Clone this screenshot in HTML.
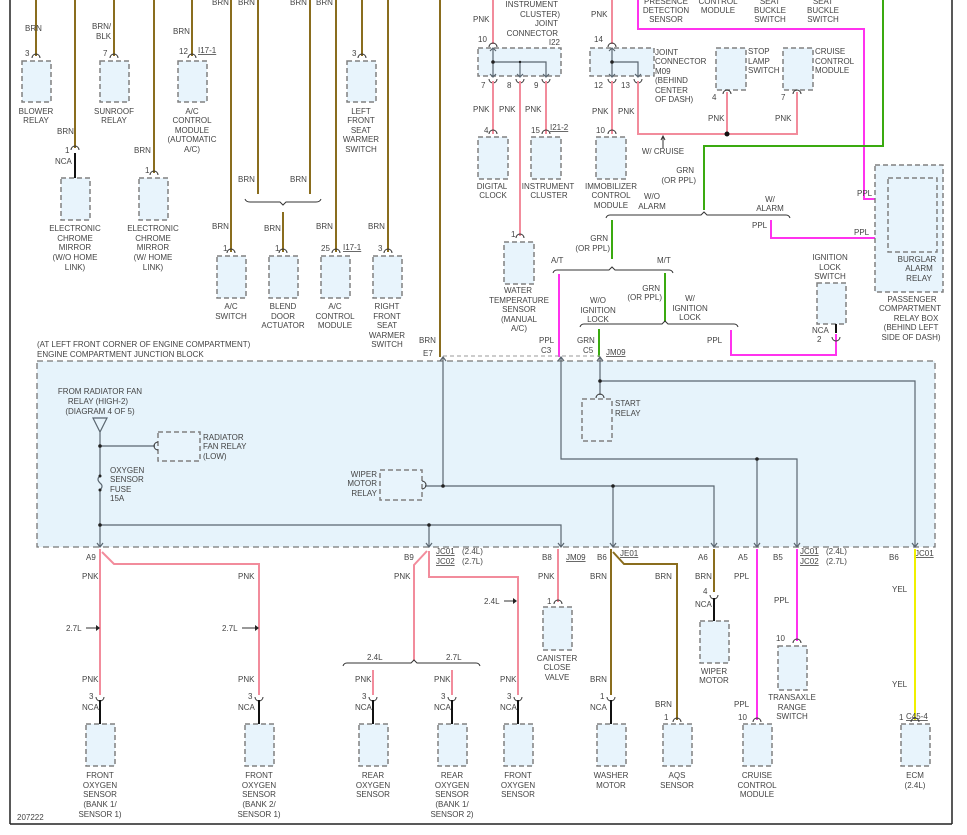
<!DOCTYPE html>
<html><head><meta charset="utf-8"><style>
html,body{margin:0;padding:0;background:#fff;}
svg{display:block;font-family:"Liberation Sans",sans-serif;}
text{font-size:8px;fill:#444;}
.m{text-anchor:middle}.e{text-anchor:end}
.b{fill:#e8f4fc;stroke:#808080;stroke-width:1.5;stroke-dasharray:5,3}
.br{stroke:#8a6d1e;stroke-width:2;fill:none}
.pk{stroke:#f28c9c;stroke-width:2;fill:none}
.pp{stroke:#ff33ee;stroke-width:2;fill:none}
.gn{stroke:#3aaa10;stroke-width:2;fill:none}
.yl{stroke:#f0f000;stroke-width:2;fill:none}
.k{stroke:#111;stroke-width:2;fill:none}
.g{stroke:#5a6670;stroke-width:1.2;fill:none}
.c{stroke:#333;stroke-width:1;fill:none}
.u{text-decoration:underline}
</style></head><body>
<svg width="967" height="835" viewBox="0 0 967 835">
<!-- frame -->
<line x1="10" y1="0" x2="10" y2="824" stroke="#222" stroke-width="1.5"/>
<line x1="952" y1="0" x2="952" y2="824" stroke="#222" stroke-width="1.5"/>
<line x1="10" y1="824" x2="952" y2="824" stroke="#222" stroke-width="1.5"/>

<!-- ===== top-left brown section ===== -->
<path class="br" d="M36 0V56"/><text x="25" y="31">BRN</text><text x="25" y="56">3</text>
<path class="c" d="M32 58A4 4 0 0 1 40 58"/><rect class="b" x="22" y="61" width="29" height="41"/>
<text class="m" x="36" y="114">BLOWER</text><text class="m" x="36" y="123">RELAY</text>

<path class="br" d="M75 0V148"/><text x="57" y="134">BRN</text><text x="65" y="153">1</text>
<path class="c" d="M71 150A4 4 0 0 1 79 150"/><text x="55" y="164">NCA</text>
<path class="k" d="M75 153V178"/><rect class="b" x="61" y="178" width="29" height="42"/>
<text class="m" x="75" y="231">ELECTRONIC</text><text class="m" x="75" y="241">CHROME</text><text class="m" x="75" y="250">MIRROR</text><text class="m" x="75" y="260">(W/O HOME</text><text class="m" x="75" y="270">LINK)</text>

<path class="br" d="M114 0V56"/><text x="92" y="29">BRN/</text><text x="96" y="39">BLK</text><text x="103" y="56">7</text>
<path class="c" d="M110 58A4 4 0 0 1 118 58"/><rect class="b" x="100" y="61" width="29" height="41"/>
<text class="m" x="114" y="114">SUNROOF</text><text class="m" x="114" y="123">RELAY</text>

<path class="br" d="M154 0V173"/><text x="134" y="153">BRN</text><text x="145" y="173">1</text>
<path class="c" d="M150 175A4 4 0 0 1 158 175"/><rect class="b" x="139" y="178" width="29" height="42"/>
<text class="m" x="153" y="231">ELECTRONIC</text><text class="m" x="153" y="241">CHROME</text><text class="m" x="153" y="250">MIRROR</text><text class="m" x="153" y="260">(W/ HOME</text><text class="m" x="153" y="270">LINK)</text>

<path class="br" d="M192 0V56"/><text x="173" y="34">BRN</text><text x="179" y="54">12</text><text class="u" x="198" y="53">I17-1</text>
<path class="c" d="M188 58A4 4 0 0 1 196 58"/><rect class="b" x="178" y="61" width="29" height="41"/>
<text class="m" x="192" y="114">A/C</text><text class="m" x="192" y="123">CONTROL</text><text class="m" x="192" y="133">MODULE</text><text class="m" x="192" y="142">(AUTOMATIC</text><text class="m" x="192" y="152">A/C)</text>

<text x="212" y="5">BRN</text><text x="238" y="5">BRN</text><text x="290" y="5">BRN</text><text x="316" y="5">BRN</text>
<path class="br" d="M231 0V252"/><text x="212" y="229">BRN</text><text x="223" y="251">1</text>
<path class="c" d="M227 253A4 4 0 0 1 235 253"/><rect class="b" x="217" y="256" width="29" height="42"/>
<text class="m" x="231" y="309">A/C</text><text class="m" x="231" y="319">SWITCH</text>

<path class="br" d="M258 0V194M310 0V194"/><text x="238" y="182">BRN</text><text x="290" y="182">BRN</text>
<path class="c" d="M245 199Q246 202 250 202H280L283 205L286 202H316Q320 202 321 199"/>
<path class="br" d="M283 212V252"/><text x="264" y="231">BRN</text><text x="275" y="251">1</text>
<path class="c" d="M279 253A4 4 0 0 1 287 253"/><rect class="b" x="269" y="256" width="29" height="42"/>
<text class="m" x="283" y="309">BLEND</text><text class="m" x="283" y="319">DOOR</text><text class="m" x="283" y="328">ACTUATOR</text>

<path class="br" d="M336 0V252"/><text x="316" y="229">BRN</text><text x="321" y="251">25</text><text class="u" x="343" y="250">I17-1</text>
<path class="c" d="M332 253A4 4 0 0 1 340 253"/><rect class="b" x="321" y="256" width="29" height="42"/>
<text class="m" x="335" y="309">A/C</text><text class="m" x="335" y="319">CONTROL</text><text class="m" x="335" y="328">MODULE</text>

<path class="br" d="M362 0V56"/><text x="352" y="56">3</text>
<path class="c" d="M358 58A4 4 0 0 1 366 58"/><rect class="b" x="347" y="61" width="29" height="41"/>
<text class="m" x="361" y="114">LEFT</text><text class="m" x="361" y="123">FRONT</text><text class="m" x="361" y="133">SEAT</text><text class="m" x="361" y="142">WARMER</text><text class="m" x="361" y="152">SWITCH</text>

<path class="br" d="M388 0V252"/><text x="368" y="229">BRN</text><text x="378" y="251">3</text>
<path class="c" d="M384 253A4 4 0 0 1 392 253"/><rect class="b" x="373" y="256" width="29" height="42"/>
<text class="m" x="387" y="309">RIGHT</text><text class="m" x="387" y="319">FRONT</text><text class="m" x="387" y="328">SEAT</text><text class="m" x="387" y="338">WARMER</text><text class="m" x="387" y="347">SWITCH</text>

<path class="br" d="M440 0V357"/><text x="419" y="343">BRN</text><text x="423" y="356">E7</text>

<!-- ===== top-right section ===== -->
<text class="e" x="558" y="7">INSTRUMENT</text><text class="e" x="560" y="17">CLUSTER)</text><text class="e" x="558" y="26">JOINT</text><text class="e" x="558" y="36">CONNECTOR</text><text class="e" x="560" y="45">I22</text>
<path class="pk" d="M493 0V44"/><text x="473" y="22">PNK</text><text x="478" y="42">10</text>
<rect class="b" x="478" y="48" width="83" height="28"/>
<path class="c" d="M489 47A4 4 0 0 1 497 47M489 79A4 4 0 0 0 497 79M516 79A4 4 0 0 0 524 79M542 79A4 4 0 0 0 550 79"/>
<path class="g" d="M493 48V77M493 62H546V77M520 62V77M490 51L493 48L496 51M490 74L493 77L496 74M517 74L520 77L523 74M543 74L546 77L549 74"/>
<circle cx="493" cy="62" r="1.8" fill="#222"/><circle cx="520" cy="62" r="1.2" fill="#222"/>
<text x="481" y="88">7</text><text x="507" y="88">8</text><text x="534" y="88">9</text>
<path class="pk" d="M493 81V134M520 81V236M546 81V134"/>
<text x="473" y="112">PNK</text><text x="499" y="112">PNK</text><text x="525" y="112">PNK</text>
<text x="484" y="133">4</text><text x="531" y="133">15</text><text class="u" x="550" y="130">I21-2</text>
<path class="c" d="M489 134A4 4 0 0 1 497 134M542 134A4 4 0 0 1 550 134M516 238A4 4 0 0 1 524 238"/>
<rect class="b" x="478" y="137" width="30" height="42"/><rect class="b" x="531" y="137" width="30" height="42"/>
<text class="m" x="492" y="189">DIGITAL</text><text class="m" x="493" y="198">CLOCK</text>
<text class="m" x="548" y="189">INSTRUMENT</text><text class="m" x="549" y="198">CLUSTER</text>
<text x="511" y="237">1</text><rect class="b" x="504" y="242" width="30" height="42"/>
<text class="m" x="518" y="293">WATER</text><text class="m" x="519" y="303">TEMPERATURE</text><text class="m" x="519" y="312">SENSOR</text><text class="m" x="519" y="322">(MANUAL</text><text class="m" x="519" y="331">A/C)</text>

<path class="pk" d="M612 0V44"/><text x="591" y="17">PNK</text><text x="594" y="42">14</text>
<rect class="b" x="590" y="48" width="64" height="28"/>
<path class="c" d="M608 47A4 4 0 0 1 616 47M608 79A4 4 0 0 0 616 79M634 79A4 4 0 0 0 642 79"/>
<path class="g" d="M612 48V77M612 62H638V77M609 51L612 48L615 51M609 74L612 77L615 74M635 74L638 77L641 74"/>
<circle cx="612" cy="62" r="1.8" fill="#222"/>
<text x="594" y="88">12</text><text x="621" y="88">13</text>
<text x="655" y="55">JOINT</text><text x="655" y="64">CONNECTOR</text><text x="655" y="74">M09</text><text x="655" y="83">(BEHIND</text><text x="655" y="93">CENTER</text><text x="655" y="102">OF DASH)</text>
<path class="pk" d="M612 81V134"/><text x="592" y="114">PNK</text><text x="618" y="114">PNK</text>
<text x="596" y="133">10</text><path class="c" d="M608 134A4 4 0 0 1 616 134"/>
<rect class="b" x="596" y="137" width="30" height="42"/>
<text class="m" x="611" y="189">IMMOBILIZER</text><text class="m" x="611" y="198">CONTROL</text><text class="m" x="611" y="208">MODULE</text>
<path class="pk" d="M638 81V134H797V92M727 92V134"/><circle cx="727" cy="134" r="2.5" fill="#111"/>
<path class="c" d="M663 148V137M661 140L663 136L665 140"/><text class="m" x="663" y="154">W/ CRUISE</text>
<rect class="b" x="716" y="48" width="30" height="42"/><text x="748" y="54">STOP</text><text x="748" y="64">LAMP</text><text x="748" y="73">SWITCH</text>
<path class="c" d="M723 94A4 4 0 0 1 731 94"/><text x="712" y="100">4</text><text x="708" y="121">PNK</text>
<rect class="b" x="783" y="48" width="30" height="42"/><text x="815" y="54">CRUISE</text><text x="815" y="64">CONTROL</text><text x="815" y="73">MODULE</text>
<path class="c" d="M793 94A4 4 0 0 1 801 94"/><text x="781" y="100">7</text><text x="775" y="121">PNK</text>

<text class="m" x="666" y="4">PRESENCE</text><text class="m" x="666" y="13">DETECTION</text><text class="m" x="666" y="22">SENSOR</text>
<text class="m" x="718" y="4">CONTROL</text><text class="m" x="718" y="13">MODULE</text>
<text class="m" x="770" y="4">SEAT</text><text class="m" x="770" y="13">BUCKLE</text><text class="m" x="770" y="22">SWITCH</text>
<text class="m" x="823" y="4">SEAT</text><text class="m" x="823" y="13">BUCKLE</text><text class="m" x="823" y="22">SWITCH</text>
<path class="pp" d="M638 0V29H864V199H884"/>
<path class="gn" d="M883 0V146H704V210"/>
<text class="e" x="694" y="173">GRN</text><text class="e" x="696" y="183">(OR PPL)</text>
<text class="m" x="652" y="199">W/O</text><text class="m" x="652" y="209">ALARM</text>
<text class="m" x="770" y="202">W/</text><text class="m" x="770" y="211">ALARM</text>
<path class="c" d="M606 218Q607 215 610 215H701L704 212L707 215H786Q789 215 790 218"/>
<path class="gn" d="M612 220V259"/><text class="e" x="608" y="241">GRN</text><text class="e" x="610" y="251">(OR PPL)</text>
<path class="pp" d="M771 220V238H884"/><text x="752" y="228">PPL</text><text x="854" y="235">PPL</text><text x="880" y="235">1</text>
<text x="857" y="196">PPL</text><text x="878" y="196">5</text>
<rect class="b" x="875" y="165" width="68" height="127"/><rect class="b" x="888" y="178" width="49" height="74"/>
<text class="m" x="917" y="262">BURGLAR</text><text class="m" x="919" y="271">ALARM</text><text class="m" x="919" y="281">RELAY</text>
<text class="m" x="912" y="302">PASSENGER</text><text class="m" x="910" y="311">COMPARTMENT</text><text class="m" x="916" y="321">RELAY BOX</text><text class="m" x="911" y="330">(BEHIND LEFT</text><text class="m" x="911" y="340">SIDE OF DASH)</text>

<text x="551" y="263">A/T</text><text x="657" y="263">M/T</text>
<path class="c" d="M553 273Q554 270 557 270H609L612 267L615 270H669Q672 270 673 273"/>
<path class="pp" d="M559 274V357"/>
<path class="gn" d="M665 273V322"/><text class="e" x="660" y="291">GRN</text><text class="e" x="662" y="300">(OR PPL)</text>
<text class="m" x="690" y="301">W/</text><text class="m" x="690" y="311">IGNITION</text><text class="m" x="690" y="320">LOCK</text>
<text class="m" x="598" y="303">W/O</text><text class="m" x="598" y="313">IGNITION</text><text class="m" x="598" y="322">LOCK</text>
<path class="c" d="M580 327Q581 324 584 324H662L665 321L668 324H734Q737 324 738 327"/>
<path class="gn" d="M599 329V357"/><text x="577" y="343">GRN</text><text x="583" y="353">C5</text><text class="u" x="606" y="355">JM09</text>
<text x="539" y="343">PPL</text><text x="541" y="353">C3</text>
<path class="pp" d="M731 330V355H836V334"/><text x="707" y="343">PPL</text>
<text class="m" x="830" y="260">IGNITION</text><text class="m" x="830" y="270">LOCK</text><text class="m" x="830" y="279">SWITCH</text>
<rect class="b" x="817" y="283" width="29" height="41"/><path class="k" d="M836 324V333"/>
<text x="812" y="333">NCA</text><text x="817" y="342">2</text><path class="c" d="M832 337A4 4 0 0 0 840 337"/>

<!-- ===== junction block ===== -->
<text x="37" y="347">(AT LEFT FRONT CORNER OF ENGINE COMPARTMENT)</text>
<text x="37" y="357">ENGINE COMPARTMENT JUNCTION BLOCK</text>
<path d="M443 356H600" stroke="#999" stroke-width="1" stroke-dasharray="4,3" fill="none"/>
<rect x="37" y="361" width="898" height="186" fill="#e6f3fb" stroke="#777" stroke-width="1.3" stroke-dasharray="6,4"/>
<text class="m" x="100" y="394">FROM RADIATOR FAN</text><text class="m" x="98" y="404">RELAY (HIGH-2)</text><text class="m" x="100" y="414">(DIAGRAM 4 OF 5)</text>
<path class="g" d="M93 418H107L100 432ZM100 432V476M100 490V547M100 446H155M100 525H561V547M429 525V547"/>
<path class="g" d="M100 476Q96 479 100 483Q104 486 100 490"/>
<circle cx="100" cy="446" r="1.8" fill="#222"/><circle cx="100" cy="476" r="1.5" fill="#222"/><circle cx="100" cy="490" r="1.5" fill="#222"/><circle cx="100" cy="525" r="1.8" fill="#222"/><circle cx="429" cy="525" r="1.8" fill="#222"/>
<rect class="b" x="158" y="432" width="42" height="29"/><path class="c" d="M158 442A4 4 0 0 0 158 450"/>
<text x="203" y="440">RADIATOR</text><text x="203" y="449">FAN RELAY</text><text x="203" y="459">(LOW)</text>
<text x="110" y="473">OXYGEN</text><text x="110" y="482">SENSOR</text><text x="110" y="492">FUSE</text><text x="110" y="501">15A</text>
<path class="g" d="M443 357V486M425 486H714V547M613 486V547"/>
<circle cx="443" cy="486" r="1.8" fill="#222"/><circle cx="613" cy="486" r="1.8" fill="#222"/>
<rect class="b" x="380" y="470" width="42" height="30"/><path class="c" d="M422 481A4 4 0 0 1 422 489"/>
<text class="e" x="377" y="477">WIPER</text><text class="e" x="377" y="486">MOTOR</text><text class="e" x="377" y="496">RELAY</text>
<path class="g" d="M561 357V459H797V547M757 459V547"/><circle cx="757" cy="459" r="1.8" fill="#222"/>
<path class="g" d="M600 357V395M600 381H915V547"/><circle cx="600" cy="381" r="1.8" fill="#222"/>
<path class="c" d="M596 398A4 4 0 0 1 604 398"/>
<rect class="b" x="582" y="399" width="30" height="42"/><text x="615" y="406">START</text><text x="615" y="416">RELAY</text>
<path class="g" d="M97 543L100 547L103 543M426 543L429 547L432 543M558 543L561 547L564 543M610 543L613 547L616 543M711 543L714 547L717 543M754 543L757 547L760 543M794 543L797 547L800 543M912 543L915 547L918 543"/>
<path class="g" d="M440 361L443 357L446 361M558 361L561 357L564 361M597 361L600 357L603 361"/>

<!-- ===== bottom section ===== -->
<text x="86" y="560">A9</text>
<path class="pk" d="M100 549V695M102 552L114 564H259V695"/>
<text x="82" y="579">PNK</text><text x="238" y="579">PNK</text>
<text x="66" y="631">2.7L</text><path class="c" d="M86 628H97"/><path d="M96 625L100 628L96 631Z" fill="#222"/>
<text x="222" y="631">2.7L</text><path class="c" d="M242 628H256"/><path d="M255 625L259 628L255 631Z" fill="#222"/>
<text x="82" y="682">PNK</text><text x="238" y="682">PNK</text>

<text x="404" y="560">B9</text><text class="u" x="436" y="554">JC01</text><text class="u" x="436" y="564">JC02</text><text x="462" y="554">(2.4L)</text><text x="462" y="564">(2.7L)</text>
<path class="pk" d="M427 551L414 565V661M429 551V577H518V695"/>
<text x="394" y="579">PNK</text>
<text x="484" y="604">2.4L</text><path class="c" d="M504 601H514"/><path d="M513 598L517 601L513 604Z" fill="#222"/>
<text x="367" y="660">2.4L</text><text x="446" y="660">2.7L</text>
<path class="c" d="M343 666Q344 663 347 663H411L414 660L417 663H476Q479 663 480 666"/>
<path class="pk" d="M373 670V695M452 670V695"/>
<text x="355" y="682">PNK</text><text x="434" y="682">PNK</text><text x="500" y="682">PNK</text>

<text x="542" y="560">B8</text><text class="u" x="566" y="560">JM09</text>
<path class="pk" d="M558 549V602"/><text x="538" y="579">PNK</text><text x="547" y="604">1</text>
<path class="c" d="M554 604A4 4 0 0 1 562 604"/>
<rect class="b" x="543" y="607" width="29" height="43"/>
<text class="m" x="557" y="661">CANISTER</text><text class="m" x="557" y="670">CLOSE</text><text class="m" x="557" y="680">VALVE</text>

<text x="597" y="560">B6</text><text class="u" x="620" y="556">JE01</text>
<path class="br" d="M611 549V695M613 552L624 564H677V720"/>
<text x="590" y="579">BRN</text><text x="655" y="579">BRN</text><text x="590" y="682">BRN</text>
<text x="655" y="707">BRN</text><text x="664" y="720">1</text><path class="c" d="M673 722A4 4 0 0 1 681 722"/>

<text x="698" y="560">A6</text>
<path class="br" d="M714 549V592"/><text x="695" y="579">BRN</text><text x="703" y="594">4</text>
<path class="c" d="M710 595A4 4 0 0 0 718 595"/><path class="k" d="M714 598V621"/><text x="695" y="607">NCA</text>
<rect class="b" x="700" y="621" width="29" height="42"/>
<text class="m" x="714" y="674">WIPER</text><text class="m" x="714" y="683">MOTOR</text>

<text x="738" y="560">A5</text>
<path class="pp" d="M757 549V720"/><text x="734" y="579">PPL</text><text x="734" y="707">PPL</text><text x="738" y="720">10</text>
<path class="c" d="M753 722A4 4 0 0 1 761 722"/>

<text x="773" y="560">B5</text><text class="u" x="800" y="554">JC01</text><text class="u" x="800" y="564">JC02</text><text x="826" y="554">(2.4L)</text><text x="826" y="564">(2.7L)</text>
<path class="pp" d="M797 549V641"/><text x="774" y="603">PPL</text><text x="776" y="641">10</text>
<path class="c" d="M793 643A4 4 0 0 1 801 643"/>
<rect class="b" x="778" y="646" width="29" height="44"/>
<text class="m" x="792" y="700">TRANSAXLE</text><text class="m" x="792" y="710">RANGE</text><text class="m" x="792" y="719">SWITCH</text>

<text x="889" y="560">B6</text><text class="u" x="915" y="556">JC01</text>
<path class="yl" d="M915 549V720"/><text x="892" y="592">YEL</text><text x="892" y="687">YEL</text><text x="899" y="720">1</text>
<text x="906" y="719" style="text-decoration:underline">C45-4</text>
<path class="c" d="M911 722A4 4 0 0 1 919 722"/>

<!-- bottom connectors NCA -->
<g>
<text x="89" y="699">3</text><path class="c" d="M96 697A4 4 0 0 0 104 697"/><text x="82" y="710">NCA</text><path class="k" d="M100 700V724"/>
<text x="248" y="699">3</text><path class="c" d="M255 697A4 4 0 0 0 263 697"/><text x="238" y="710">NCA</text><path class="k" d="M259 700V724"/>
<text x="362" y="699">3</text><path class="c" d="M369 697A4 4 0 0 0 377 697"/><text x="355" y="710">NCA</text><path class="k" d="M373 700V724"/>
<text x="441" y="699">3</text><path class="c" d="M448 697A4 4 0 0 0 456 697"/><text x="434" y="710">NCA</text><path class="k" d="M452 700V724"/>
<text x="507" y="699">3</text><path class="c" d="M514 697A4 4 0 0 0 522 697"/><text x="500" y="710">NCA</text><path class="k" d="M518 700V724"/>
<text x="600" y="699">1</text><path class="c" d="M607 697A4 4 0 0 0 615 697"/><text x="590" y="710">NCA</text><path class="k" d="M611 700V724"/>
</g>
<rect class="b" x="86" y="724" width="29" height="42"/><rect class="b" x="245" y="724" width="29" height="42"/>
<rect class="b" x="359" y="724" width="29" height="42"/><rect class="b" x="438" y="724" width="29" height="42"/>
<rect class="b" x="504" y="724" width="29" height="42"/><rect class="b" x="597" y="724" width="29" height="42"/>
<rect class="b" x="663" y="724" width="29" height="42"/><rect class="b" x="743" y="724" width="29" height="42"/>
<rect class="b" x="901" y="724" width="29" height="42"/>

<text class="m" x="100" y="778">FRONT</text><text class="m" x="100" y="788">OXYGEN</text><text class="m" x="100" y="797">SENSOR</text><text class="m" x="100" y="807">(BANK 1/</text><text class="m" x="100" y="817">SENSOR 1)</text>
<text class="m" x="259" y="778">FRONT</text><text class="m" x="259" y="788">OXYGEN</text><text class="m" x="259" y="797">SENSOR</text><text class="m" x="259" y="807">(BANK 2/</text><text class="m" x="259" y="817">SENSOR 1)</text>
<text class="m" x="373" y="778">REAR</text><text class="m" x="373" y="788">OXYGEN</text><text class="m" x="373" y="797">SENSOR</text>
<text class="m" x="452" y="778">REAR</text><text class="m" x="452" y="788">OXYGEN</text><text class="m" x="452" y="797">SENSOR</text><text class="m" x="452" y="807">(BANK 1/</text><text class="m" x="452" y="817">SENSOR 2)</text>
<text class="m" x="518" y="778">FRONT</text><text class="m" x="518" y="788">OXYGEN</text><text class="m" x="518" y="797">SENSOR</text>
<text class="m" x="611" y="778">WASHER</text><text class="m" x="611" y="788">MOTOR</text>
<text class="m" x="677" y="778">AQS</text><text class="m" x="677" y="788">SENSOR</text>
<text class="m" x="757" y="778">CRUISE</text><text class="m" x="757" y="788">CONTROL</text><text class="m" x="757" y="797">MODULE</text>
<text class="m" x="915" y="778">ECM</text><text class="m" x="915" y="788">(2.4L)</text>
<text x="17" y="820">207222</text>
</svg>
</body></html>
